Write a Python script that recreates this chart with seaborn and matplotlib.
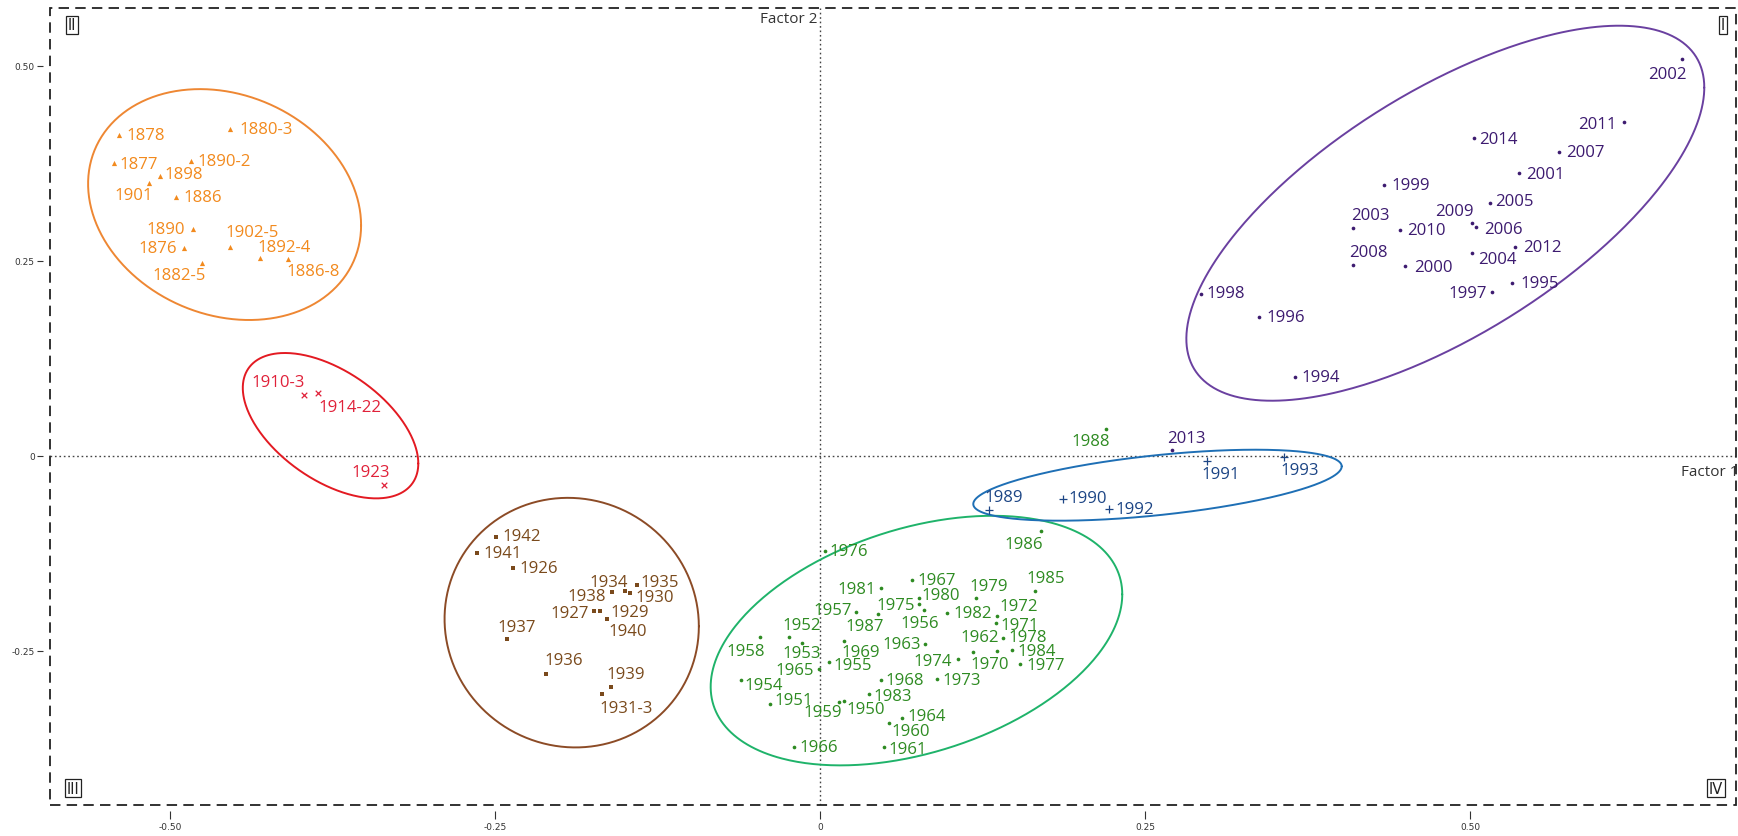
import numpy as np
import pandas as pd
import matplotlib
matplotlib.use("Agg")
import matplotlib.pyplot as plt
import seaborn as sns
from matplotlib.patches import Rectangle

# ---------------- factor scores per period ----------------
years_1876 = ["1876", "1877", "1878", "1880-3", "1882-5", "1886", "1886-8",
              "1890", "1890-2", "1892-4", "1898", "1901", "1902-5"]
f1_1876 = [-0.489, -0.543, -0.539, -0.454, -0.475, -0.495, -0.409,
           -0.482, -0.484, -0.431, -0.508, -0.516, -0.454]
f2_1876 = [0.266, 0.375, 0.411, 0.419, 0.247, 0.332, 0.252,
           0.291, 0.378, 0.253, 0.358, 0.349, 0.267]

years_1910 = ["1910-3", "1914-22", "1923"]
f1_1910 = [-0.397, -0.386, -0.335]
f2_1910 = [0.078, 0.080, -0.038]

years_1926 = ["1926", "1927", "1929", "1930", "1931-3", "1934", "1935",
              "1936", "1937", "1938", "1939", "1940", "1941", "1942"]
f1_1926 = [-0.236, -0.174, -0.169, -0.146, -0.168, -0.150, -0.141,
           -0.211, -0.241, -0.160, -0.161, -0.164, -0.264, -0.249]
f2_1926 = [-0.144, -0.199, -0.199, -0.176, -0.305, -0.173, -0.166,
           -0.280, -0.235, -0.175, -0.296, -0.209, -0.125, -0.104]

years_1950 = [str(y) for y in range(1950, 1989)]
f1_1950 = [0.0185, -0.0385, -0.0238, -0.0138, -0.0610, 0.0069, 0.0802, 0.0274,
           -0.0462, 0.0144, 0.0533, 0.0492, 0.136, 0.0810, 0.0633, -0.0010,
           -0.0202, 0.0705, 0.0469, 0.0182, 0.118, 0.135, 0.136, 0.0898,
           0.106, 0.0759, 0.0038, 0.154, 0.141, 0.120, 0.0759, 0.0469,
           0.098, 0.0374, 0.148, 0.165, 0.170, 0.0448, 0.220]
f2_1950 = [-0.314, -0.318, -0.233, -0.240, -0.287, -0.265, -0.198, -0.200,
           -0.233, -0.316, -0.343, -0.374, -0.250, -0.241, -0.336, -0.274,
           -0.374, -0.159, -0.288, -0.237, -0.252, -0.214, -0.205, -0.286,
           -0.261, -0.190, -0.122, -0.267, -0.234, -0.183, -0.183, -0.170,
           -0.202, -0.305, -0.249, -0.174, -0.096, -0.203, 0.034]

years_1989 = ["1989", "1990", "1991", "1992", "1993"]
f1_1989 = [0.130, 0.187, 0.2975, 0.2225, 0.357]
f2_1989 = [-0.070, -0.0555, -0.0064, -0.068, -0.0021]

years_1994 = [str(y) for y in range(1994, 2015)]
f1_1994 = [0.3655, 0.5325, 0.3378, 0.5172, 0.2928, 0.4342, 0.4503, 0.5380,
           0.6628, 0.4102, 0.5019, 0.5152, 0.5048, 0.5688, 0.4102, 0.5013,
           0.4462, 0.6182, 0.5348, 0.2705, 0.5028]
f2_1994 = [0.1013, 0.2210, 0.1774, 0.2103, 0.2073, 0.3474, 0.2436, 0.3621,
           0.5082, 0.2919, 0.2595, 0.3240, 0.2936, 0.3890, 0.2449, 0.2983,
           0.2897, 0.4282, 0.2672, 0.0077, 0.4073]

# group ellipses: centre (f1, f2), half-extent along f1 and f2, correlation
ell_cx = [-0.458, -0.3765, -0.191, 0.0742, 0.2596, 0.4810]
ell_cy = [0.322, 0.0385, -0.214, -0.237, -0.0378, 0.3109]
ell_rx = [0.105, 0.0675, 0.0978, 0.1583, 0.1417, 0.1992]
ell_ry = [0.148, 0.0932, 0.160, 0.160, 0.0455, 0.2404]
ell_rho = [-0.18, -0.52, -0.03, 0.37, 0.53, 0.67]

x_ticks = [-0.50, -0.25, 0, 0.25, 0.50]
x_tick_labels = ["-0.50", "-0.25", "0", "0.25", "0.50"]
y_ticks = [-0.25, 0, 0.25, 0.50]
y_tick_labels = ["-0.25", "0", "0.25", "0.50"]

# ---------------- styling ----------------
groups = [
    # years, f1, f2, marker, size, text colour, ellipse colour
    (years_1876, f1_1876, f2_1876, "^", 14, "#F28A1E", "#EE8733"),
    (years_1910, f1_1910, f2_1910, "x", 16, "#E0223A", "#E31A22"),
    (years_1926, f1_1926, f2_1926, "s", 9, "#7A4A1C", "#8C4B26"),
    (years_1950, f1_1950, f2_1950, "o", 7, "#2E8B22", "#1FB36A"),
    (years_1989, f1_1989, f2_1989, "+", 30, "#1C4585", "#1E6FB5"),
    (years_1994, f1_1994, f2_1994, "o", 7, "#3D1B70", "#6A40A0"),
]
# label placement: offset of label centre from the point, in pixels (dx, dy up)
label_offset = {
    "1876": (-27, 0), "1877": (25, -1), "1878": (26, 0), "1880-3": (36, 0),
    "1882-5": (-23, -12), "1886": (26, 0), "1886-8": (25, -12), "1890": (-28, 0),
    "1890-2": (33, 0), "1892-4": (24, 11), "1898": (24, 2), "1901": (-16, -12),
    "1902-5": (22, 15),
    "1910-3": (-26, 13), "1914-22": (32, -14), "1923": (-14, 13),
    "1926": (25, 0), "1927": (-24, -2), "1929": (29, -1), "1930": (24, -4),
    "1931-3": (25, -14), "1934": (-16, 9), "1935": (23, 3), "1936": (18, 14),
    "1937": (10, 12), "1938": (-25, -4), "1939": (15, 13), "1940": (21, -12),
    "1941": (26, 0), "1942": (25, 1),
    "1950": (22, -8), "1951": (24, 4), "1952": (13, 12), "1953": (0, -10),
    "1954": (23, -5), "1955": (24, -3), "1956": (-5, -13), "1957": (-23, 2),
    "1958": (-14, -14), "1959": (-16, -10), "1960": (21, -8), "1961": (24, -2),
    "1962": (-17, 14), "1963": (-24, 0), "1964": (24, 2), "1965": (-24, -1),
    "1966": (25, 0), "1967": (25, 0), "1968": (24, 0), "1969": (17, -11),
    "1970": (16, -12), "1971": (24, -2), "1972": (22, 10), "1973": (25, -1),
    "1974": (-25, -2), "1975": (-23, -1), "1976": (24, 0), "1977": (25, -1),
    "1978": (24, 1), "1979": (13, 12), "1980": (22, 3), "1981": (-24, -1),
    "1982": (25, 0), "1983": (24, -2), "1984": (24, -1), "1985": (11, 13),
    "1986": (-17, -13), "1987": (-14, -12), "1988": (-15, -12),
    "1989": (15, 13), "1990": (25, 1), "1991": (14, -13), "1992": (25, 0),
    "1993": (16, -13),
    "1994": (26, 0), "1995": (27, 0), "1996": (27, 0), "1997": (-25, -1),
    "1998": (25, 1), "1999": (26, 0), "2000": (28, -1), "2001": (26, -1),
    "2002": (-14, -15), "2003": (17, 13), "2004": (25, -6), "2005": (25, 2),
    "2006": (27, -2), "2007": (26, 0), "2008": (15, 13), "2009": (-17, 12),
    "2010": (26, 0), "2011": (-26, -2), "2012": (27, 0), "2013": (15, 12),
    "2014": (25, -1),
}

sns.set_theme(style="white")
plt.rcParams["font.family"] = ["Open Sans", "DejaVu Sans"]
plt.rcParams["lines.scale_dashes"] = False

W, H = 1738, 837
fig = plt.figure(figsize=(W / 100, H / 100), dpi=100)
ax = fig.add_axes([50 / W, (H - 806) / H, 1686 / W, 797 / H])

ax.set_xlim(-0.5923, 0.7046)
ax.set_ylim(-0.4478, 0.574)

# centre lines
ax.axhline(0, color="#444444", lw=1.0, ls=(0, (1.2, 2.0)), zorder=1)
ax.axvline(0, color="#444444", lw=1.0, ls=(0, (1.2, 2.0)), zorder=1)

t = np.linspace(0, 2 * np.pi, 400)
for i, (yrs, f1, f2, mk, sz, tcol, ecol) in enumerate(groups):
    df = pd.DataFrame({"f1": f1, "f2": f2, "year": yrs})
    kw = dict(edgecolor=tcol, linewidth=0) if mk not in ("x", "+") else dict(linewidth=0.9)
    sns.scatterplot(data=df, x="f1", y="f2", marker=mk, s=sz, color=tcol,
                    ax=ax, legend=False, zorder=3, **kw)
    # confidence ellipse of the period
    ex = ell_cx[i] + ell_rx[i] * np.cos(t)
    ey = ell_cy[i] + ell_ry[i] * (ell_rho[i] * np.cos(t)
                                  + np.sqrt(1 - ell_rho[i] ** 2) * np.sin(t))
    sns.lineplot(x=ex, y=ey, sort=False, estimator=None, errorbar=None,
                 color=ecol, lw=1.4, ax=ax, legend=False, zorder=2)
    for y_lab, x, y in zip(yrs, f1, f2):
        dx, dy = label_offset[y_lab]
        ax.annotate(y_lab, (x, y), xytext=(dx, dy), textcoords="offset pixels",
                    ha="center", va="center", fontsize=12.1, color=tcol,
                    zorder=4)

# dashed frame around the plotting area
ax.add_patch(Rectangle((0, 0), 1, 1, transform=ax.transAxes, fill=False,
                       ec="#222222", lw=1.3, ls=(0, (7.5, 4.5)),
                       clip_on=False, zorder=5))
for s in ax.spines.values():
    s.set_visible(False)
ax.spines["left"].set_position(("outward", 5))
ax.spines["bottom"].set_position(("outward", 4.5))

ax.set_xticks(x_ticks)
ax.set_xticklabels(x_tick_labels)
ax.set_yticks(y_ticks)
ax.set_yticklabels(y_tick_labels)
ax.tick_params(axis="x", direction="out", length=6, width=0.8, pad=2,
               labelsize=6.5, colors="#333333", bottom=True)
ax.tick_params(axis="y", direction="out", length=4, width=0.8, pad=2,
               labelsize=6.5, colors="#333333", left=True)
for lab in ax.get_xticklabels() + ax.get_yticklabels():
    lab.set_family("DejaVu Sans")
ax.set_xlabel("")
ax.set_ylabel("")
ax.grid(False)

# factor axis titles
ax.text(-0.002, 0.561, "Factor 2", ha="right", va="center", fontsize=11,
        color="#333333")
ax.text(0.7062, -0.0196, "Factor 1", ha="right", va="center", fontsize=11,
        color="#333333", clip_on=False)

# quadrant labels
box = dict(boxstyle="square,pad=0.12", fc="white", ec="#222222", lw=0.9)
for qx, qy, q in [(0.0128, 0.9787, "II"), (0.9923, 0.9787, "I"),
                  (0.0137, 0.0213, "III"), (0.988, 0.0213, "IV")]:
    ax.text(qx, qy, q, transform=ax.transAxes, ha="center", va="center",
            fontsize=10.5, color="#222222", bbox=box,
            family="DejaVu Sans", zorder=6)

fig.savefig("out.png", dpi=100)
